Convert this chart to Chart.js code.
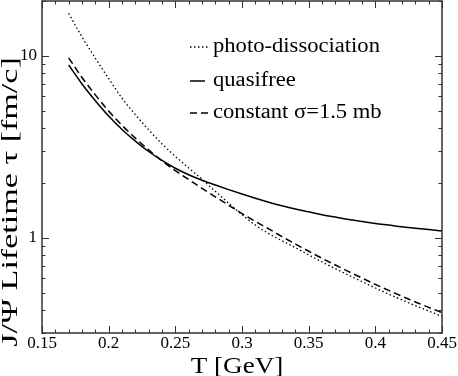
<!DOCTYPE html>
<html>
<head>
<meta charset="utf-8">
<script src="https://cdn.jsdelivr.net/npm/chart.js@4/dist/chart.umd.min.js"></script>
<style>
  body { margin: 0; background: #fff; }
</style>
</head>
<body>
<canvas id="chart" width="458" height="376"></canvas>
<script>
// temperature grid [GeV]
const temps = [0.17, 0.18, 0.19, 0.20, 0.21, 0.22, 0.23, 0.24, 0.25, 0.26,
               0.27, 0.28, 0.29, 0.30, 0.31, 0.32, 0.33, 0.34, 0.35, 0.36,
               0.37, 0.38, 0.39, 0.40, 0.41, 0.42, 0.43, 0.44, 0.45];

// lifetimes tau [fm/c]
const photoDiss = [17.1, 12.7, 9.7, 7.5, 5.85, 4.75, 3.92, 3.28, 2.80, 2.42,
                   2.10, 1.80, 1.55, 1.34, 1.175, 1.055, 0.963, 0.883, 0.806, 0.737,
                   0.677, 0.623, 0.574, 0.530, 0.491, 0.456, 0.424, 0.396, 0.370];
const quasifree = [8.9, 7.0, 5.67, 4.67, 3.94, 3.40, 2.98, 2.66, 2.41, 2.22,
                   2.07, 1.95, 1.84, 1.74, 1.65, 1.57, 1.50, 1.44, 1.39, 1.34,
                   1.30, 1.26, 1.23, 1.20, 1.175, 1.15, 1.13, 1.11, 1.09];
const constSigma = [9.75, 7.6, 6.1, 4.97, 4.15, 3.53, 3.04, 2.65, 2.34, 2.09,
                    1.87, 1.68, 1.51, 1.36, 1.23, 1.12, 1.015, 0.925, 0.844, 0.772,
                    0.709, 0.652, 0.601, 0.555, 0.514, 0.478, 0.444, 0.415, 0.388];

const seriesLabels = ['photo-dissociation', 'quasifree', 'constant \u03c3=1.5 mb'];
const xTitle = 'T [GeV]';
const yTitle = 'J/\u03a8 Lifetime \u03c4 [fm/c]';
const xMajor = [0.15, 0.2, 0.25, 0.3, 0.35, 0.4, 0.45];
const yLabeled = [1, 10];
const yMinor = [0.3, 0.4, 0.5, 0.6, 0.7, 0.8, 0.9, 2, 3, 4, 5, 6, 7, 8, 9, 20];

const serif = '"Liberation Serif", "DejaVu Serif", serif';

function toPoints(ys) {
    return temps.map((t, i) => ({ x: t, y: ys[i] }));
}

// text drawn a bit stretched, like the original figure
function stretchedText(ctx, text, x, y, size, sx, rot) {
    ctx.save();
    ctx.translate(x, y);
    if (rot) ctx.rotate(rot);
    ctx.scale(sx, 1);
    ctx.font = size + 'px ' + serif;
    ctx.fillText(text, 0, 0);
    ctx.restore();
}

// frame + inward ticks on all four sides, titles and the inset legend
const framePlugin = {
    id: 'frame',
    afterDraw(chart) {
        const ctx = chart.ctx;
        const a = chart.chartArea;
        const xs = chart.scales.x, ys = chart.scales.y;
        ctx.save();
        ctx.strokeStyle = '#333';
        ctx.lineWidth = 1;
        // x ticks every 0.01
        for (let k = 15; k <= 45; k++) {
            const px = Math.round(xs.getPixelForValue(k / 100)) + 0.5;
            const len = (k % 5 === 0) ? 7 : 3.5;
            ctx.beginPath();
            ctx.moveTo(px, a.bottom); ctx.lineTo(px, a.bottom - len);
            ctx.moveTo(px, a.top); ctx.lineTo(px, a.top + len);
            ctx.stroke();
        }
        const yTicks = yLabeled.map(v => [v, 7]).concat(yMinor.map(v => [v, 3.5]));
        yTicks.forEach(([v, len]) => {
            const py = Math.round(ys.getPixelForValue(v)) + 0.5;
            ctx.beginPath();
            ctx.moveTo(a.left, py); ctx.lineTo(a.left + len, py);
            ctx.moveTo(a.right, py); ctx.lineTo(a.right - len, py);
            ctx.stroke();
        });
        ctx.lineWidth = 1.5;
        ctx.strokeRect(a.left, a.top, a.right - a.left, a.bottom - a.top);

        ctx.fillStyle = '#000';
        ctx.textAlign = 'center';
        ctx.textBaseline = 'middle';
        stretchedText(ctx, xTitle, 237, 367, 23, 1.18, 0);
        stretchedText(ctx, yTitle, 11, 202, 24, 1.42, -Math.PI / 2);

        // legend
        ctx.textAlign = 'left';
        const rows = [47, 81, 113];
        chart.data.datasets.forEach((ds, i) => {
            ctx.strokeStyle = '#000';
            ctx.lineWidth = ds.borderWidth;
            ctx.setLineDash(ds.borderDash || []);
            ctx.beginPath();
            ctx.moveTo(190, rows[i]);
            ctx.lineTo(i === 1 ? 205 : 209, rows[i]);
            ctx.stroke();
            ctx.setLineDash([]);
            stretchedText(ctx, ds.label, 213, rows[i], 20, 1.13, 0);
        });
        ctx.restore();
    }
};

new Chart(document.getElementById('chart'), {
    type: 'line',
    data: {
        datasets: [
            { label: seriesLabels[0], data: toPoints(photoDiss), borderColor: '#000',
              borderWidth: 1.3, borderDash: [1.5, 2.5], pointRadius: 0, cubicInterpolationMode: 'monotone' },
            { label: seriesLabels[1], data: toPoints(quasifree), borderColor: '#000',
              borderWidth: 1.5, pointRadius: 0, cubicInterpolationMode: 'monotone' },
            { label: seriesLabels[2], data: toPoints(constSigma), borderColor: '#000',
              borderWidth: 1.5, borderDash: [7, 4], pointRadius: 0, cubicInterpolationMode: 'monotone' }
        ]
    },
    options: {
        responsive: false,
        animation: false,
        layout: { padding: { top: 1, right: 16, left: 0, bottom: 0 } },
        plugins: { legend: { display: false }, tooltip: { enabled: false } },
        scales: {
            x: {
                type: 'linear', min: 0.15, max: 0.45,
                grid: { display: false, drawTicks: false, tickLength: 0 },
                border: { display: false },
                afterFit(scale) { scale.height = 43; scale.paddingLeft = 0; scale.paddingRight = 0; },
                afterBuildTicks(scale) { scale.ticks = xMajor.map(v => ({ value: v })); },
                ticks: { color: '#000', font: { family: serif, size: 17 }, padding: 0, maxRotation: 0,
                         callback: v => String(+v.toFixed(2)) }
            },
            y: {
                type: 'logarithmic', min: 0.3, max: 20,
                grid: { display: false, drawTicks: false, tickLength: 0 },
                border: { display: false },
                afterFit(scale) { scale.width = 42; scale.paddingTop = 0; scale.paddingBottom = 0; },
                afterBuildTicks(scale) { scale.ticks = yLabeled.map(v => ({ value: v })); },
                ticks: { color: '#000', font: { family: serif, size: 17 }, padding: 5,
                         callback: v => String(v) }
            }
        }
    },
    plugins: [framePlugin]
});
</script>
</body>
</html>
